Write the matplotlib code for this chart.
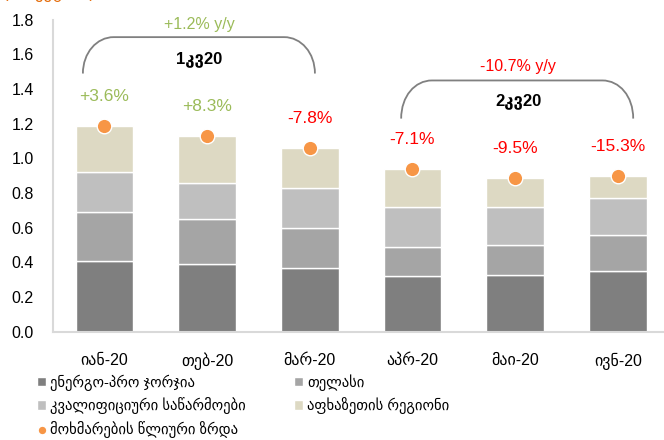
import matplotlib
matplotlib.use("Agg")
import matplotlib.pyplot as plt
import numpy as np
from matplotlib.path import Path
from matplotlib.patches import PathPatch

# Données
months = ["იან-20", "თებ-20", "მარ-20", "აპრ-20", "მაი-20", "ივნ-20"]
energo = [0.41, 0.39, 0.37, 0.32, 0.33, 0.35]
telasi = [0.28, 0.26, 0.23, 0.17, 0.17, 0.21]
kval = [0.23, 0.21, 0.23, 0.23, 0.22, 0.21]
apkhazeti = [0.27, 0.27, 0.23, 0.22, 0.17, 0.13]
growth = ["+3.6%", "+8.3%", "-7.8%", "-7.1%", "-9.5%", "-15.3%"]
quarters = ["1კვ20", "2კვ20"]
quarter_growth = ["+1.2% y/y", "-10.7% y/y"]

series_names = ["ენერგო-პრო ჯორჯია", "თელასი", "კვალიფიციური საწარმოები", "აფხაზეთის რეგიონი"]
dot_name = "მოხმარების წლიური ზრდა"
unit = "(ბნ. კვტ.სთ)"

colors = ["#7f7f7f", "#a5a5a5", "#bfbfbf", "#ddd9c3"]
orange = "#f79646"
green = "#9bbb59"
red = "#ff0000"

plt.rcParams['font.family'] = ['Liberation Sans', 'DejaVu Sans']


def bracket(ax, x0, x1, y_bot, y_top, rx, ry):
    # accolade arrondie au-dessus d'un trimestre
    verts = [(x0, y_bot), (x0, y_top - ry * 0.45), (x0 + rx * 0.45, y_top), (x0 + rx, y_top),
             (x1 - rx, y_top),
             (x1 - rx * 0.45, y_top), (x1, y_top - ry * 0.45), (x1, y_bot)]
    codes = [Path.MOVETO, Path.CURVE4, Path.CURVE4, Path.CURVE4,
             Path.LINETO,
             Path.CURVE4, Path.CURVE4, Path.CURVE4]
    ax.add_patch(PathPatch(Path(verts, codes), fill=False, edgecolor="#808080", lw=1.3))


fig = plt.figure(figsize=(6.64, 4.40), dpi=100)
ax = fig.add_axes([0.080, 0.246, 0.92, 0.709])

x = np.arange(len(months))
width = 0.56
bottom = np.zeros(len(months))
bars = []
for vals, c, name in zip([energo, telasi, kval, apkhazeti], colors, series_names):
    b = ax.bar(x, vals, width, bottom=bottom, color=c, edgecolor="white", linewidth=1.0, label=name)
    bars.append(b)
    bottom = bottom + np.array(vals)

dots = ax.scatter(x, bottom, s=110, color=orange, edgecolor="white", linewidth=1.0, zorder=5, label=dot_name)

for xi, yi, g in zip(x, bottom, growth):
    ax.annotate(g, (xi, yi), xytext=(0, 21), textcoords="offset points", ha="center", va="center",
                fontsize=12.5, color=green if g.startswith("+") else red)

# accolades des trimestres
bracket(ax, -0.21, 2.05, 1.49, 1.70, 0.30, 0.20)
bracket(ax, 2.89, 5.15, 1.23, 1.45, 0.30, 0.20)
ax.text(0.92, 1.775, quarter_growth[0], ha="center", va="center", fontsize=11.5, color=green)
ax.text(0.92, 1.575, quarters[0], ha="center", va="center", fontsize=12, fontweight="bold")
ax.text(4.03, 1.53, quarter_growth[1], ha="center", va="center", fontsize=11.5, color=red)
ax.text(4.03, 1.33, quarters[1], ha="center", va="center", fontsize=12, fontweight="bold")

ax.set_xlim(-0.5, 5.45)
ax.set_ylim(0, 1.8)
ax.set_yticks(np.arange(0, 1.81, 0.2))
ax.set_yticklabels([f"{v:.1f}" for v in np.arange(0, 1.81, 0.2)])
ax.set_xticks(x)
ax.set_xticklabels(months)
ax.tick_params(axis="both", length=0, labelsize=11.5)
ax.tick_params(axis="y", pad=14)
ax.tick_params(axis="x", pad=15)
for s in ["top", "right"]:
    ax.spines[s].set_visible(False)
for s in ["left", "bottom"]:
    ax.spines[s].set_color("#d9d9d9")
    ax.spines[s].set_linewidth(1.5)

handles = [bars[0], bars[2], dots, bars[1], bars[3]]
labels = [series_names[0], series_names[2], dot_name, series_names[1], series_names[3]]
fig.legend(handles, labels, ncol=2, loc="upper left", bbox_to_anchor=(0.056, 0.150), frameon=False,
           fontsize=10.5, handlelength=0.6, handleheight=0.6, handletextpad=0.3, columnspacing=3.3,
           labelspacing=0.45, borderaxespad=0, borderpad=0, markerscale=0.6)

fig.text(0.005, 0.995, unit, color="#e46c0a", fontsize=12, va="bottom", ha="left")

fig.savefig("out.png", dpi=100)
